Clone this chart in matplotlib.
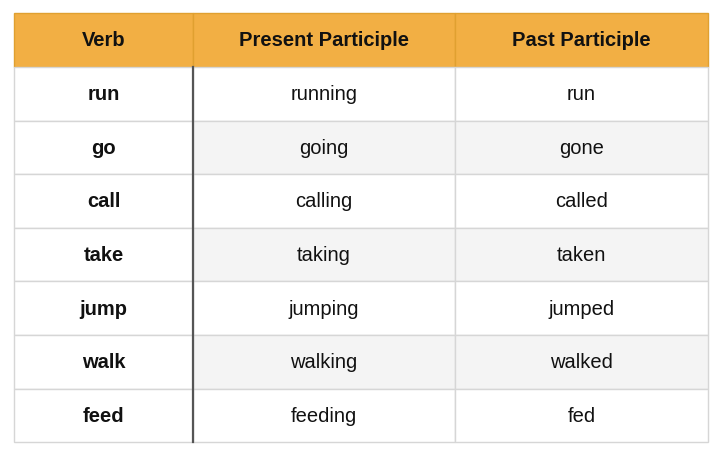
import matplotlib
matplotlib.use("Agg")
import matplotlib.pyplot as plt
from matplotlib.patches import Rectangle

headers = ["Verb", "Present Participle", "Past Participle"]
verbs = ["run", "go", "call", "take", "jump", "walk", "feed"]
present = ["running", "going", "calling", "taking", "jumping", "walking", "feeding"]
past = ["run", "gone", "called", "taken", "jumped", "walked", "fed"]

plt.rcParams['font.family'] = ['Liberation Sans', 'DejaVu Sans']
fig = plt.figure(figsize=(7.2, 4.6), dpi=100)
ax = fig.add_axes([0, 0, 1, 1])
ax.set_xlim(0, 720); ax.set_ylim(460, 0); ax.axis('off')

col_x = [14, 193, 455, 708]
top, head_h, row_h = 14, 54, 53.6
orange = "#F2AF44"
grid = "#d6d6d6"

for i, h in enumerate(headers):
    ax.add_patch(Rectangle((col_x[i], top), col_x[i+1]-col_x[i], head_h,
                           facecolor=orange, edgecolor="#e0a030", lw=1))
    ax.text((col_x[i]+col_x[i+1])/2, top+head_h/2, h, ha='center', va='center',
            fontsize=14.5, fontweight='bold', color='#111111')

cols = [verbs, present, past]
for r in range(len(verbs)):
    y = top + head_h + r*row_h
    for c in range(3):
        fc = "#f4f4f4" if (r % 2 == 1 and c > 0) else "white"
        ax.add_patch(Rectangle((col_x[c], y), col_x[c+1]-col_x[c], row_h,
                               facecolor=fc, edgecolor=grid, lw=1))
        ax.text((col_x[c]+col_x[c+1])/2, y+row_h/2, cols[c][r], ha='center', va='center',
                fontsize=14.5, fontweight='bold' if c == 0 else 'normal', color='#111111')

bottom = top + head_h + len(verbs)*row_h
ax.plot([col_x[1], col_x[1]], [top+head_h, bottom], color='#555555', lw=1.6)
fig.savefig("out.png", dpi=100)
